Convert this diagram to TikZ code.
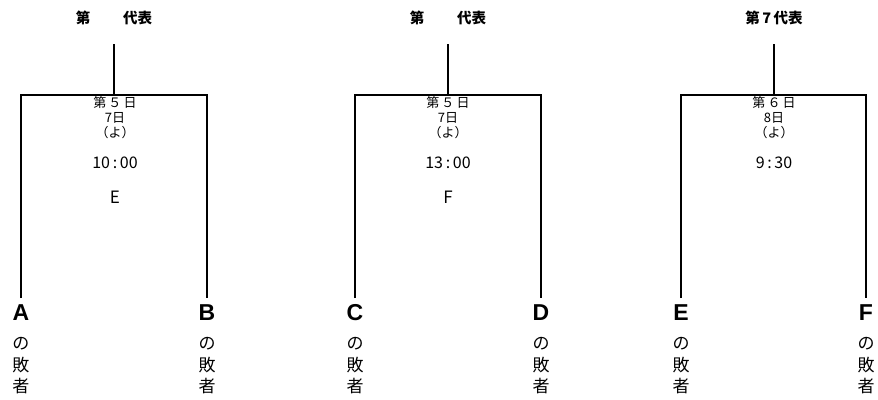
\documentclass[tikz,border=0pt]{standalone}
\usepackage{fontspec}
\setmainfont{Liberation Sans}
\newfontfamily\jp{Noto Sans CJK JP}
\usetikzlibrary{positioning}

\begin{document}
\begin{tikzpicture}[x=1pt, y=-1pt,
  titlelabel/.style={font=\jp\bfseries\fontsize{14.5}{14.5}\selectfont, inner sep=0pt},
  datelabel/.style={font=\jp\fontsize{13}{15}\selectfont, align=center, inner sep=0pt},
  timelabel/.style={font=\jp\fontsize{16}{16}\selectfont, inner sep=0pt},
  gamelabel/.style={font=\jp\fontsize{17}{17}\selectfont, inner sep=0pt},
  teamlabel/.style={font=\bfseries\fontsize{23}{23}\selectfont, inner sep=0pt},
  loserlabel/.style={font=\jp\fontsize{17}{21.5}\selectfont, align=center, inner sep=0pt},
  bracket/.style={line width=2pt}
]
  \useasboundingbox (0,0) rectangle (878,399);

  % Game E
  \node[titlelabel] (rep1) at (114, 18) {第\hspace{33pt}代表};
  \coordinate (stemtop1) at (114, 44);
  \coordinate (stembot1) at (114, 95);
  \coordinate (topA) at (21, 95);
  \coordinate (topB) at (207, 95);
  \coordinate (lowA) at (21, 298);
  \coordinate (lowB) at (207, 298);
  \node[datelabel] (date1) at (115, 118) {第\,５\,日\\7日\\（よ）};
  \node[timelabel] (time1) at (115, 163) {10\,:\,00};
  \node[gamelabel] (game1) at (115, 197) {E};
  \node[teamlabel, below=6pt of lowA] (A) {A};
  \node[teamlabel, below=6pt of lowB] (B) {B};
  \node[loserlabel] (loseA) at (21, 366) {の\\敗\\者};
  \node[loserlabel] (loseB) at (207, 366) {の\\敗\\者};
  \draw[bracket] (stemtop1) -- (stembot1);
  \draw[bracket] (lowA) -- (topA) -- (topB) -- (lowB);

  % Game F
  \node[titlelabel] (rep2) at (448, 18) {第\hspace{33pt}代表};
  \coordinate (stemtop2) at (448, 44);
  \coordinate (stembot2) at (448, 95);
  \coordinate (topC) at (355, 95);
  \coordinate (topD) at (541, 95);
  \coordinate (lowC) at (355, 298);
  \coordinate (lowD) at (541, 298);
  \node[datelabel] (date2) at (448, 118) {第\,５\,日\\7日\\（よ）};
  \node[timelabel] (time2) at (448, 163) {13\,:\,00};
  \node[gamelabel] (game2) at (448, 197) {F};
  \node[teamlabel, below=6pt of lowC] (C) {C};
  \node[teamlabel, below=6pt of lowD] (D) {D};
  \node[loserlabel] (loseC) at (355, 366) {の\\敗\\者};
  \node[loserlabel] (loseD) at (541, 366) {の\\敗\\者};
  \draw[bracket] (stemtop2) -- (stembot2);
  \draw[bracket] (lowC) -- (topC) -- (topD) -- (lowD);

  % 7th representative
  \node[titlelabel] (rep3) at (774, 18) {第\,7\,代表};
  \coordinate (stemtop3) at (774, 44);
  \coordinate (stembot3) at (774, 95);
  \coordinate (topE) at (681, 95);
  \coordinate (topF) at (866, 95);
  \coordinate (lowE) at (681, 298);
  \coordinate (lowF) at (866, 298);
  \node[datelabel] (date3) at (774, 118) {第\,６\,日\\8日\\（よ）};
  \node[timelabel] (time3) at (774, 163) {9\,:\,30};
  \node[teamlabel, below=6pt of lowE] (E) {E};
  \node[teamlabel, below=6pt of lowF] (F) {F};
  \node[loserlabel] (loseE) at (681, 366) {の\\敗\\者};
  \node[loserlabel] (loseF) at (866, 366) {の\\敗\\者};
  \draw[bracket] (stemtop3) -- (stembot3);
  \draw[bracket] (lowE) -- (topE) -- (topF) -- (lowF);
\end{tikzpicture}
\end{document}
